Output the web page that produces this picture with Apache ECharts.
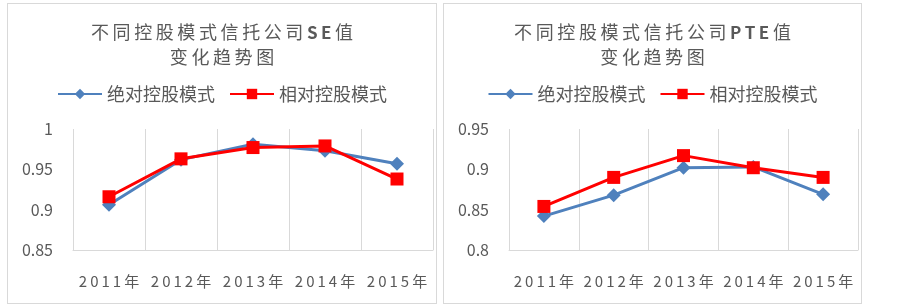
<!DOCTYPE html>
<html>
<head>
<meta charset="utf-8">
<script src="https://cdn.jsdelivr.net/npm/echarts@6/dist/echarts.min.js"></script>
<style>
  html, body { margin: 0; padding: 0; background: #fff; }
  .panel { position: absolute; top: 3px; height: 299px; border: 1px solid #d9d9d9; }
  #se { left: 7px; width: 428px; }
  #pte { left: 443px; width: 417px; }
</style>
</head>
<body>
<div id="se" class="panel"></div>
<div id="pte" class="panel"></div>
<script>
  var years = ['2011年', '2012年', '2013年', '2014年', '2015年'];
  var seriesNames = ['绝对控股模式', '相对控股模式'];

  var seAbs = [0.906, 0.962, 0.981, 0.973, 0.957];
  var seRel = [0.916, 0.963, 0.977, 0.979, 0.938];
  var pteAbs = [0.842, 0.868, 0.902, 0.903, 0.869];
  var pteRel = [0.854, 0.890, 0.917, 0.902, 0.890];

  var seAxis = { min: 0.85, max: 1, interval: 0.05 };
  var pteAxis = { min: 0.8, max: 0.95, interval: 0.05 };

  var FONT = '"Noto Sans CJK SC", "Noto Sans", sans-serif';
  var GRAY = '#595959';

  // spread letters a little, like the Excel chart does
  function spaced(str, sp) {
    return str.split('').join(sp);
  }

  function buildOption(tag, abs, rel, yAxisCfg) {
    var head = spaced('不同控股模式信托公司', '\u2009');
    return {
      animation: false,
      textStyle: { fontFamily: FONT },
      title: {
        text: head + '\u2009{b|' + spaced(tag, '\u2009') + '}\u2009值\n' + spaced('变化趋势图', '\u2009'),
        left: 'center',
        top: 11,
        textStyle: {
          fontFamily: FONT,
          fontSize: 18,
          fontWeight: 'normal',
          color: GRAY,
          lineHeight: 25,
          rich: {
            b: { fontFamily: FONT, fontSize: 17, fontWeight: 'bold', color: GRAY }
          }
        }
      },
      legend: {
        top: 76,
        left: 'center',
        itemWidth: 44,
        itemHeight: 13,
        itemGap: 14,
        textStyle: { fontFamily: FONT, fontSize: 18, color: GRAY },
        data: seriesNames
      },
      grid: { left: 65, right: 3, top: 125, bottom: 53 },
      xAxis: {
        type: 'category',
        data: years,
        boundaryGap: true,
        axisLine: { lineStyle: { color: '#d9d9d9', width: 1 } },
        axisTick: { show: false },
        axisLabel: {
          interval: 0,
          margin: 24,
          fontSize: 15,
          color: GRAY,
          fontFamily: FONT,
          formatter: function (v) { return spaced(v, '\u2009'); }
        },
        splitLine: { show: true, interval: 0, lineStyle: { color: '#d9d9d9', width: 1 } }
      },
      yAxis: {
        type: 'value',
        min: yAxisCfg.min,
        max: yAxisCfg.max,
        interval: yAxisCfg.interval,
        axisLine: { show: false },
        axisTick: { show: false },
        splitLine: { show: false },
        axisLabel: { margin: 20, fontSize: 16, color: GRAY, fontFamily: FONT }
      },
      series: [{
        name: seriesNames[0],
        type: 'line',
        data: abs,
        symbol: 'diamond',
        symbolSize: 14,
        lineStyle: { color: '#4f81bd', width: 3 },
        itemStyle: { color: '#4f81bd' }
      }, {
        name: seriesNames[1],
        type: 'line',
        data: rel,
        symbol: 'rect',
        symbolSize: 13,
        lineStyle: { color: '#ff0000', width: 3 },
        itemStyle: { color: '#ff0000' }
      }]
    };
  }

  var seChart = echarts.init(document.getElementById('se'));
  seChart.setOption(buildOption('SE', seAbs, seRel, seAxis));

  var pteChart = echarts.init(document.getElementById('pte'));
  pteChart.setOption(buildOption('PTE', pteAbs, pteRel, pteAxis));
</script>
</body>
</html>
